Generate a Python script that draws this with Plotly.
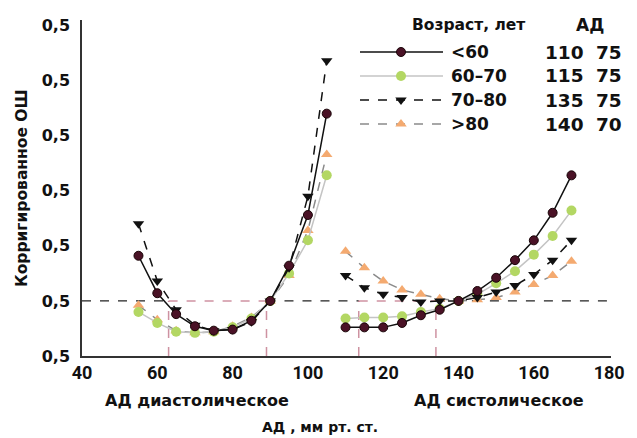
import plotly.graph_objects as go

# ---------------- data ----------------
x_dia = [55, 60, 65, 70, 75, 80, 85, 90, 95, 100, 105]
x_sys = [110, 115, 120, 125, 130, 135, 140, 145, 150, 155, 160, 165, 170]

age_groups = ["<60", "60–70", "70–80", ">80"]
bp_sys = ["110", "115", "135", "140"]
bp_dia = ["75", "75", "75", "70"]

dia_lt60 = [1.41, 1.07, 0.88, 0.77, 0.73, 0.74, 0.82, 1.00, 1.32, 1.78, 2.70]
dia_60_70 = [0.90, 0.80, 0.72, 0.71, 0.72, 0.76, 0.84, 1.00, 1.25, 1.55, 2.14]
dia_70_80 = [1.70, 1.18, 0.92, 0.78, 0.73, 0.74, 0.81, 1.00, 1.30, 1.95, 3.18]
dia_gt80 = [0.96, 0.83, 0.73, 0.71, 0.72, 0.77, 0.85, 1.00, 1.23, 1.64, 2.33]

sys_lt60 = [0.76, 0.76, 0.76, 0.80, 0.87, 0.92, 1.00, 1.09, 1.21, 1.37, 1.55, 1.80, 2.14]
sys_60_70 = [0.84, 0.85, 0.85, 0.86, 0.90, 0.93, 1.00, 1.06, 1.16, 1.27, 1.42, 1.59, 1.82]
sys_70_80 = [1.23, 1.12, 1.06, 1.03, 0.99, 1.00, 1.00, 1.03, 1.08, 1.14, 1.24, 1.37, 1.55]
sys_gt80 = [1.45, 1.30, 1.18, 1.10, 1.06, 1.02, 1.00, 1.01, 1.03, 1.08, 1.15, 1.23, 1.36]

y_ticks = [0.5, 1.0, 1.5, 2.0, 2.5, 3.0, 3.5]
y_ticktext = ["0,5"] * 7
x_ticks = [40, 60, 80, 100, 120, 140, 160, 180]

ref_or = 1.0
thresholds_dia = [63, 89]
thresholds_sys = [113.5, 134]

# ---------------- styles ----------------
W, H = 637, 438
ML, MR, MT, MB = 82, 26, 20, 82
PW, PH = W - ML - MR, H - MT - MB
FONT = "'DejaVu Sans', Roboto, sans-serif"
TICKFONT = "Roboto, 'DejaVu Sans', sans-serif"

styles = [
    dict(line=dict(color="#111111", width=1.5, dash="solid"),
         marker=dict(symbol="circle", size=9, color="#4a1226", line=dict(color="#1a0508", width=1))),
    dict(line=dict(color="#c4c4c4", width=1.5, dash="solid"),
         marker=dict(symbol="circle", size=10, color="#b3d763", line=dict(width=0))),
    dict(line=dict(color="#111111", width=1.5, dash="dash"),
         marker=dict(symbol="triangle-down", size=10, color="#111111", line=dict(width=0))),
    dict(line=dict(color="#8a8a8a", width=1.5, dash="dash"),
         marker=dict(symbol="triangle-up", size=10, color="#f4aa70", line=dict(width=0))),
]

dia_series = [dia_lt60, dia_60_70, dia_70_80, dia_gt80]
sys_series = [sys_lt60, sys_60_70, sys_70_80, sys_gt80]

fig = go.Figure()

# reference lines (drawn below data)
pink = "rgba(190,110,130,0.75)"
shapes = []
seg_black = [(40, thresholds_dia[0]), (thresholds_dia[1], thresholds_sys[0]), (thresholds_sys[1], 180)]
for a, b in seg_black:
    shapes.append(dict(type="line", xref="x", yref="y", x0=a, x1=b, y0=ref_or, y1=ref_or,
                       line=dict(color="#222222", width=1.2, dash="dash"), layer="below"))
for a, b in [thresholds_dia, thresholds_sys]:
    shapes.append(dict(type="line", xref="x", yref="y", x0=a, x1=b, y0=ref_or, y1=ref_or,
                       line=dict(color=pink, width=1.5, dash="dash"), layer="below"))
    for xv in (a, b):
        shapes.append(dict(type="line", xref="x", yref="y", x0=xv, x1=xv, y0=0.5, y1=ref_or,
                           line=dict(color=pink, width=1.5, dash="dash"), layer="below"))

# data traces, draw lighter first
for i in [3, 1, 2, 0]:
    st = styles[i]
    for xs, ys in [(x_dia, dia_series[i]), (x_sys, sys_series[i])]:
        fig.add_trace(go.Scatter(x=xs, y=ys, mode="lines+markers", line=st["line"],
                                 marker=st["marker"], showlegend=False, cliponaxis=False))

# custom legend glyphs on a pixel-coordinate overlay axis
leg_rows = [52, 76, 100, 124]
leg_x0, leg_x1, leg_xm = 360, 443, 401
for i, ry in enumerate(leg_rows):
    st = styles[i]
    fig.add_trace(go.Scatter(x=[leg_x0, leg_xm, leg_x1], y=[ry, ry, ry], mode="lines",
                             line=st["line"], xaxis="x2", yaxis="y2", showlegend=False, hoverinfo="skip"))
    fig.add_trace(go.Scatter(x=[leg_xm], y=[ry], mode="markers", marker=st["marker"],
                             xaxis="x2", yaxis="y2", showlegend=False, hoverinfo="skip"))


def px(xp):
    return (xp - ML) / PW


def py(yp):
    return (H - MB - yp) / PH


ann = []
def text(t, x, y, size=16, xanchor="center", angle=0):
    ann.append(dict(text=t, x=px(x), y=py(y), xref="paper", yref="paper", showarrow=False,
                    xanchor=xanchor, yanchor="middle", textangle=angle,
                    font=dict(family=FONT, size=size, color="#111111", weight="bold")))

text("Возраст, лет", 468, 25, 15.5)
text("АД", 590, 25, 17)
for i, ry in enumerate(leg_rows):
    text(age_groups[i], 449, ry, 17, xanchor="left")
    text(bp_sys[i], 564, ry, 18.5)
    text(bp_dia[i], 609, ry, 18.5)

text("АД диастолическое", 197, 400, 16)
text("АД систолическое", 499, 400, 16)
text("АД , мм рт. ст.", 320, 427, 14)
text("Корригированное ОШ", 22, 188, 15.5, angle=-90)

fig.update_layout(
    width=W, height=H,
    margin=dict(l=ML, r=MR, t=MT, b=MB),
    paper_bgcolor="white", plot_bgcolor="white",
    shapes=shapes, annotations=ann,
    font=dict(family=FONT, color="#111111"),
    xaxis=dict(range=[40, 180.5], tickvals=x_ticks, showgrid=False, zeroline=False,
               showline=True, linecolor="#333333", linewidth=1.5, ticks="",
               tickfont=dict(size=18, family=TICKFONT, weight="bold")),
    yaxis=dict(range=[0.5, 3.55], tickvals=y_ticks, ticktext=y_ticktext, showgrid=False,
               zeroline=False, showline=True, linecolor="#333333", linewidth=1.5, ticks="",
               ticklabelstandoff=7, tickfont=dict(size=16, family=FONT, weight="bold")),
    xaxis2=dict(overlaying="x", range=[ML, W - MR], visible=False, anchor="y2"),
    yaxis2=dict(overlaying="y", range=[H - MB, MT], visible=False, anchor="x2"),
    showlegend=False,
)

fig.write_html("out.html", config={"displayModeBar": False},
               post_script="document.body.style.margin='0px';document.body.style.overflow='hidden';")
